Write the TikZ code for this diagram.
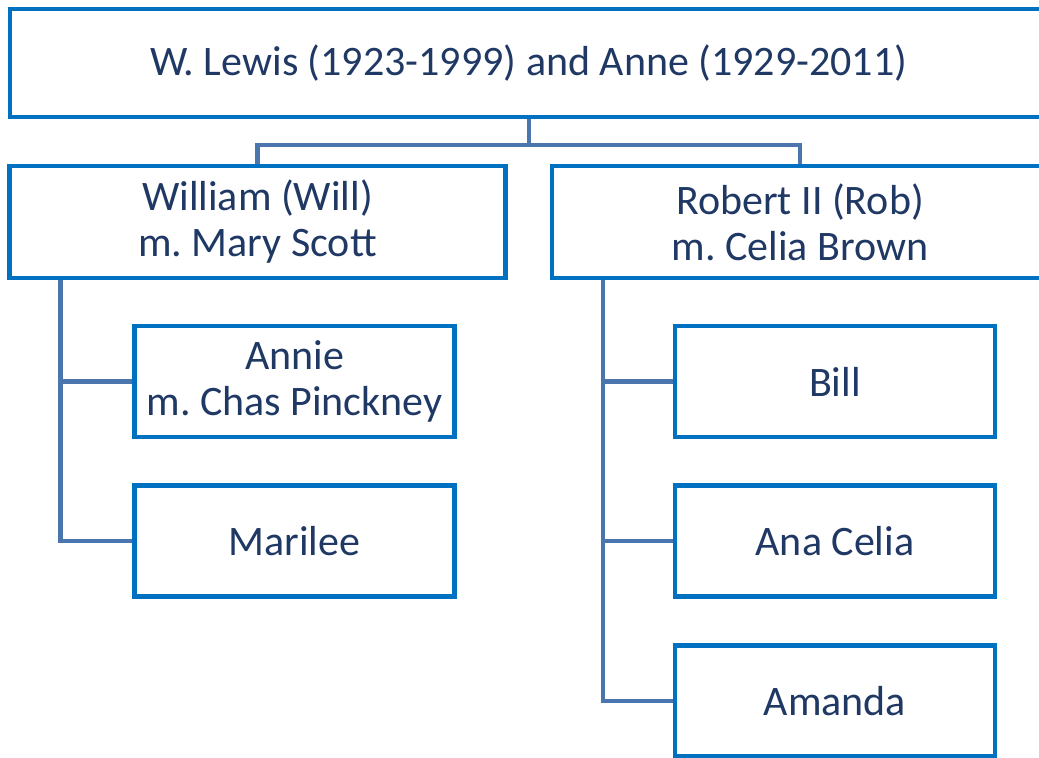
\documentclass[tikz,border=0pt]{standalone}
\usepackage{fontspec}
\setmainfont{Carlito}
\frenchspacing
\usetikzlibrary{positioning}
\definecolor{mbox}{HTML}{0070C0}
\definecolor{mline}{HTML}{4A76AD}
\definecolor{mtext}{HTML}{1F3864}
\tikzstyle{person} = [rectangle, draw = mbox, line width = 2.2pt, inner sep = 0pt, text = mtext, align = center, font = \fontsize{21}{23}\selectfont]
\tikzstyle{parents} = [person, minimum width = 519pt, minimum height = 54pt]
\tikzstyle{child} = [person, minimum width = 248pt, minimum height = 56pt]
\tikzstyle{grandchild} = [person, minimum width = 160pt, minimum height = 55.5pt]
\tikzstyle{link} = [draw = mline, line width = 2.3pt]

\begin{document}
\begin{tikzpicture}[x = 0.5pt, y = -0.5pt]
\path[use as bounding box] (0,0) rectangle (1039,758);
\clip (0,0) rectangle (1039,758);
\node (lewis) [parents] at (529,63) {W. Lewis (1923-1999) and Anne (1929-2011)};
\node (will) [child] at (257.5,222) {William (Will)\\m. Mary Scott};
\node (rob) [child] at (800,222) {Robert II (Rob)\\m. Celia Brown};
\node (annie) [grandchild] at (294.5,381.5) {Annie\\m. Chas Pinckney};
\node (marilee) [grandchild] at (294.5,541) {Marilee};
\node (bill) [grandchild] at (835,381.5) {Bill};
\node (ana) [grandchild] at (835,541) {Ana Celia};
\node (amanda) [grandchild] at (835,701) {Amanda};
\draw [link] (lewis.south) -- ++(0,-13pt) -| (will.north);
\draw [link] (lewis.south) -- ++(0,-13pt) -| (rob.north);
\draw [link] ([xshift = 26.5pt]will.south west) |- (annie.west);
\draw [link] ([xshift = 26.5pt]will.south west) |- (marilee.west);
\draw [link] ([xshift = 26.5pt]rob.south west) |- (bill.west);
\draw [link] ([xshift = 26.5pt]rob.south west) |- (ana.west);
\draw [link] ([xshift = 26.5pt]rob.south west) |- (amanda.west);
\end{tikzpicture}
\end{document}
